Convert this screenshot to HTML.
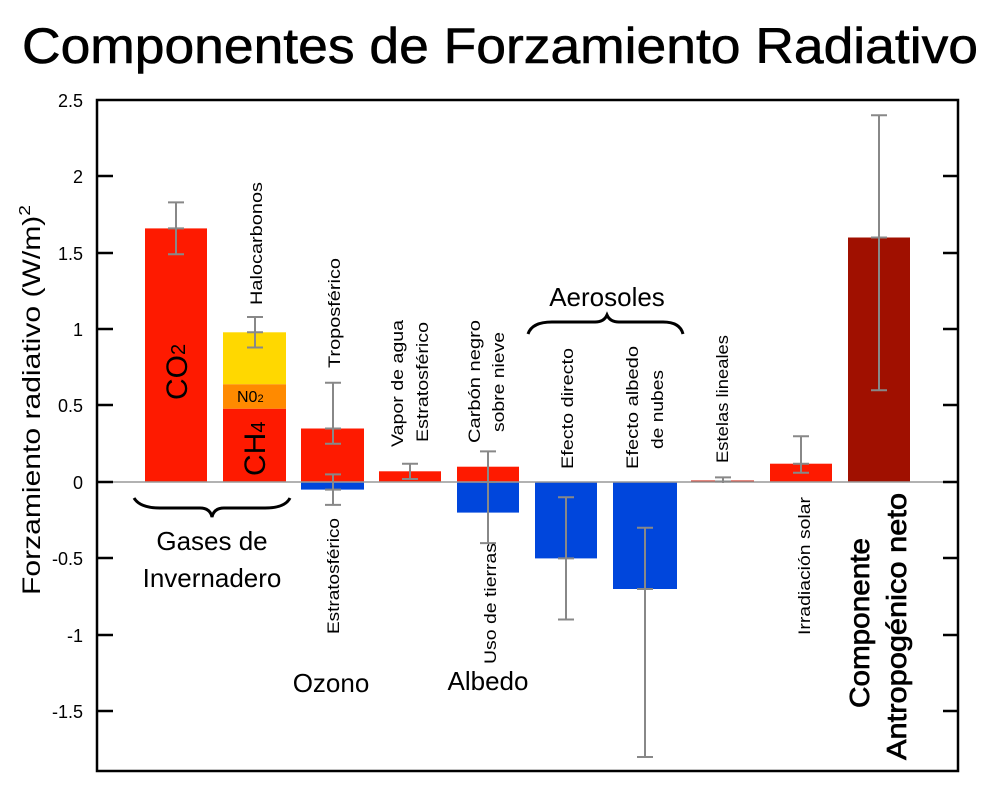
<!DOCTYPE html>
<html><head><meta charset="utf-8"><style>html,body{margin:0;padding:0;background:#fff}svg{display:block}</style></head>
<body>
<svg width="1000" height="800" viewBox="0 0 1000 800" xmlns="http://www.w3.org/2000/svg" font-family="Liberation Sans, DejaVu Sans, sans-serif">
<rect width="1000" height="800" fill="#fff"/>
<text x="22" y="63" font-size="50" textLength="956" lengthAdjust="spacingAndGlyphs" stroke="#000" stroke-width="0.6">Componentes de Forzamiento Radiativo</text>

<!-- bars -->
<g stroke="none">
<rect x="145" y="228.4" width="62" height="253.6" fill="#fe1a00"/>
<rect x="223" y="408.7" width="63" height="73.3" fill="#fe1a00"/>
<rect x="223" y="384.2" width="63" height="24.5" fill="#ff8a00"/>
<rect x="223" y="332.3" width="63" height="51.9" fill="#ffd800"/>
<rect x="301" y="428.5" width="63" height="53.5" fill="#fe1a00"/>
<rect x="301" y="482" width="63" height="7.6" fill="#0046dc"/>
<rect x="379" y="471.3" width="62" height="10.7" fill="#fe1a00"/>
<rect x="457" y="466.7" width="62" height="15.3" fill="#fe1a00"/>
<rect x="457" y="482" width="62" height="30.6" fill="#0046dc"/>
<rect x="535" y="482" width="62" height="76.4" fill="#0046dc"/>
<rect x="613" y="482" width="64" height="107" fill="#0046dc"/>
<rect x="691" y="480.5" width="63" height="1.5" fill="#c81000"/>
<rect x="770" y="463.7" width="62" height="18.3" fill="#fe1a00"/>
<rect x="848" y="237.5" width="62" height="244.5" fill="#a01000"/>
</g>

<line x1="112" y1="482" x2="943" y2="482" stroke="#999" stroke-width="1.5"/>

<g stroke="#888" stroke-width="2" fill="none">
<path d="M176 202.4V254.3M168 202.4H184M168 254.3H184M168 228.4H184"/>
<path d="M255 317V347.5M247 317H263M247 347.5H263M247 332.3H263"/>
<path d="M333 382.7V443.8M325 382.7H341M325 443.8H341M325 428.5H341"/>
<path d="M333 474.4V504.9M325 474.4H341M325 504.9H341M325 489.6H341"/>
<path d="M410 463.7V479M402 463.7H418M402 479H418"/>
<path d="M488 451.4V543.1M480 451.4H496M480 543.1H496M480 482H496"/>
<path d="M566 497.3V619.5M558 497.3H574M558 619.5H574M558 558.4H574"/>
<path d="M645 527.8V757M637 527.8H653M637 757H653M637 589H653"/>
<path d="M723 477V483M715 477.4H731M715 481.5H731"/>
<path d="M801 436.2V472.8M793 436.2H809M793 472.8H809M793 463.7H809"/>
<path d="M879 115.3V390.3M871 115.3H887M871 390.3H887M871 237.5H887"/>
</g>

<rect x="97" y="100" width="861" height="671" fill="none" stroke="#000" stroke-width="2.5"/>
<g stroke="#000" stroke-width="2.5">
<path d="M97 176H113M97 253H113M97 329H113M97 405H113M97 482H113M97 558H113M97 635H113M97 711H113"/>
<path d="M943 176H958M943 253H958M943 329H958M943 405H958M943 482H958M943 558H958M943 635H958M943 711H958"/>
</g>
<g font-size="18" text-anchor="end">
<text x="83" y="107">2.5</text><text x="83" y="183">2</text><text x="83" y="260">1.5</text>
<text x="83" y="336">1</text><text x="83" y="412">0.5</text><text x="83" y="489">0</text>
<text x="83" y="565">-0.5</text><text x="83" y="642">-1</text><text x="83" y="718">-1.5</text>
</g>
<text transform="translate(40,595) rotate(-90)" font-size="25" textLength="390" lengthAdjust="spacingAndGlyphs">Forzamiento radiativo (W/m)<tspan dy="-10" font-size="16">2</tspan></text>

<text transform="translate(187,400) rotate(-90)" font-size="30">CO<tspan font-size="20" dy="-2">2</tspan></text>
<text x="237" y="402" font-size="16">N0<tspan font-size="11">2</tspan></text>
<text transform="translate(265,476) rotate(-90)" font-size="30">CH<tspan font-size="20">4</tspan></text>

<g font-size="17">
<text transform="translate(262,305) rotate(-90)" textLength="123" lengthAdjust="spacingAndGlyphs">Halocarbonos</text>
<text transform="translate(340,368) rotate(-90)" textLength="110" lengthAdjust="spacingAndGlyphs">Troposférico</text>
<text transform="translate(403,447) rotate(-90)" textLength="127" lengthAdjust="spacingAndGlyphs">Vapor de agua</text>
<text transform="translate(428,442) rotate(-90)" textLength="120" lengthAdjust="spacingAndGlyphs">Estratosférico</text>
<text transform="translate(480,443) rotate(-90)" textLength="123" lengthAdjust="spacingAndGlyphs">Carbón negro</text>
<text transform="translate(504,432) rotate(-90)" textLength="100" lengthAdjust="spacingAndGlyphs">sobre nieve</text>
<text transform="translate(573,469) rotate(-90)" textLength="121" lengthAdjust="spacingAndGlyphs">Efecto directo</text>
<text transform="translate(638,469) rotate(-90)" textLength="123" lengthAdjust="spacingAndGlyphs">Efecto albedo</text>
<text transform="translate(663,449) rotate(-90)" textLength="79" lengthAdjust="spacingAndGlyphs">de nubes</text>
<text transform="translate(728,463) rotate(-90)" textLength="128" lengthAdjust="spacingAndGlyphs">Estelas lineales</text>
<text transform="translate(339,634) rotate(-90)" textLength="116" lengthAdjust="spacingAndGlyphs">Estratosférico</text>
<text transform="translate(496,664) rotate(-90)" textLength="121" lengthAdjust="spacingAndGlyphs">Uso de tierras</text>
<text transform="translate(810,635) rotate(-90)" textLength="138" lengthAdjust="spacingAndGlyphs">Irradiación solar</text>
</g>
<g font-size="28" stroke="#000" stroke-width="0.7">
<text transform="translate(869,708) rotate(-90)" textLength="170" lengthAdjust="spacingAndGlyphs">Componente</text>
<text transform="translate(906,760) rotate(-90)" textLength="267" lengthAdjust="spacingAndGlyphs">Antropogénico neto</text>
</g>

<g font-size="26">
<text x="212" y="550" text-anchor="middle">Gases de</text>
<text x="212" y="587" text-anchor="middle">Invernadero</text>
<text x="331" y="692" text-anchor="middle">Ozono</text>
<text x="488" y="690" text-anchor="middle">Albedo</text>
<text x="607" y="306" text-anchor="middle">Aerosoles</text>
</g>
<g fill="none" stroke="#000" stroke-width="3">
<path d="M134 498 Q140 508 160 508 L200 508 Q210 508 212 517 Q214 508 224 508 L265 508 Q285 508 290 498"/>
<path d="M528 334 Q532 322 552 322 L595 322 Q604 322 607 315 Q610 322 619 322 L663 322 Q680 322 683 334"/>
</g>
</svg>
</body></html>
